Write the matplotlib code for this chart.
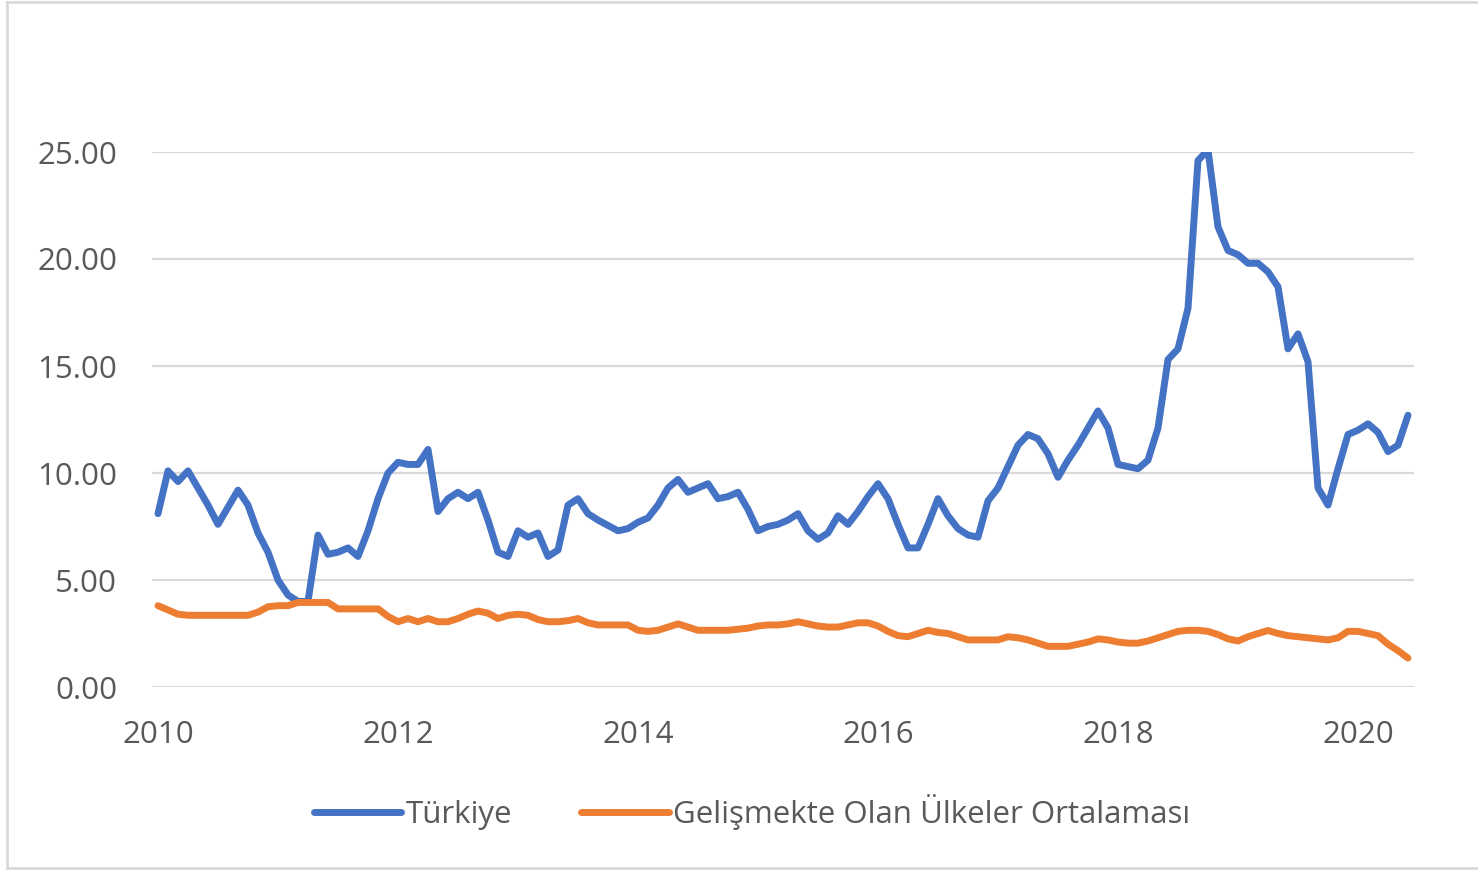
import matplotlib
matplotlib.use("Agg")
import matplotlib.pyplot as plt
from matplotlib.lines import Line2D

# Monthly data, Jan 2010 .. Jun 2020
turkiye = [
    8.1, 10.1, 9.6, 10.1, 9.3, 8.5, 7.6, 8.4, 9.2, 8.5, 7.2, 6.3,          # 2010
    5.0, 4.3, 4.0, 4.0, 7.1, 6.2, 6.3, 6.5, 6.1, 7.3, 8.8, 10.0,           # 2011
    10.5, 10.4, 10.4, 11.1, 8.2, 8.8, 9.1, 8.8, 9.1, 7.8, 6.3, 6.1,        # 2012
    7.3, 7.0, 7.2, 6.1, 6.4, 8.5, 8.8, 8.1, 7.8, 7.55, 7.3, 7.4,           # 2013
    7.7, 7.9, 8.5, 9.3, 9.7, 9.1, 9.3, 9.5, 8.8, 8.9, 9.1, 8.3,            # 2014
    7.3, 7.5, 7.6, 7.8, 8.1, 7.3, 6.9, 7.2, 8.0, 7.6, 8.2, 8.9,            # 2015
    9.5, 8.8, 7.6, 6.5, 6.5, 7.6, 8.8, 8.0, 7.4, 7.1, 7.0, 8.7,            # 2016
    9.3, 10.3, 11.3, 11.8, 11.6, 10.9, 9.8, 10.6, 11.3, 12.1, 12.9, 12.1,  # 2017
    10.4, 10.3, 10.2, 10.6, 12.1, 15.3, 15.8, 17.7, 24.6, 25.1, 21.5, 20.4, # 2018
    20.2, 19.8, 19.8, 19.4, 18.7, 15.8, 16.5, 15.2, 9.3, 8.5, 10.2, 11.8,  # 2019
    12.0, 12.3, 11.9, 11.0, 11.3, 12.7,                                    # 2020
]
gelismekte = [
    3.8, 3.6, 3.4, 3.35, 3.35, 3.35, 3.35, 3.35, 3.35, 3.35, 3.5, 3.75,
    3.8, 3.8, 3.95, 3.95, 3.95, 3.95, 3.65, 3.65, 3.65, 3.65, 3.65, 3.3,
    3.05, 3.2, 3.05, 3.2, 3.05, 3.05, 3.2, 3.4, 3.55, 3.45, 3.2, 3.35,
    3.4, 3.35, 3.15, 3.05, 3.05, 3.1, 3.2, 3.0, 2.9, 2.9, 2.9, 2.9,
    2.65, 2.6, 2.65, 2.8, 2.95, 2.8, 2.65, 2.65, 2.65, 2.65, 2.7, 2.75,
    2.85, 2.9, 2.9, 2.95, 3.05, 2.95, 2.85, 2.8, 2.8, 2.9, 3.0, 3.0,
    2.85, 2.6, 2.4, 2.35, 2.5, 2.65, 2.55, 2.5, 2.35, 2.2, 2.2, 2.2,
    2.2, 2.35, 2.3, 2.2, 2.05, 1.9, 1.9, 1.9, 2.0, 2.1, 2.25, 2.2,
    2.1, 2.05, 2.05, 2.15, 2.3, 2.45, 2.6, 2.65, 2.65, 2.6, 2.45, 2.25,
    2.15, 2.35, 2.5, 2.64, 2.5, 2.4, 2.35, 2.3, 2.25, 2.2, 2.3, 2.6,
    2.6, 2.5, 2.4, 2.0, 1.7, 1.35,
]
series_names = ["Türkiye", "Gelişmekte Olan Ülkeler Ortalaması"]
year_labels = ["2010", "2012", "2014", "2016", "2018", "2020"]
y_ticks = [0, 5, 10, 15, 20, 25]

plt.rcParams['font.family'] = ['Open Sans', 'DejaVu Sans']
TXT = "#595959"
BLUE = "#4472C4"
ORANGE = "#ED7D31"
LW = 5.0

W, H = 1478, 871
fig = plt.figure(figsize=(W / 100, H / 100), dpi=100)
ax = fig.add_axes([152 / W, 1 - 687 / H, (1414 - 152) / W, (687 - 152) / H])

ax.plot(range(len(turkiye)), turkiye, color=BLUE, lw=LW,
        solid_joinstyle='round', solid_capstyle='round', zorder=3)
ax.plot(range(len(gelismekte)), gelismekte, color=ORANGE, lw=LW,
        solid_joinstyle='round', solid_capstyle='round', zorder=3)

ax.set_xlim(-0.6, 125.6)
ax.set_ylim(0, 25)
ax.set_yticks(y_ticks)
ax.set_yticklabels([f"{v:.2f}" for v in y_ticks])
ax.set_xticks([i * 24 for i in range(len(year_labels))])
ax.set_xticklabels(year_labels)
ax.tick_params(axis='both', length=0, labelsize=22.5, labelcolor=TXT)
ax.tick_params(axis='y', pad=25)
ax.tick_params(axis='x', pad=24)
ax.grid(axis='y', color="#D9D9D9", lw=1.6, zorder=0)
for s in ax.spines.values():
    s.set_visible(False)
ax.set_axisbelow(True)

handles = [Line2D([], [], color=BLUE, lw=LW, solid_capstyle='round'),
           Line2D([], [], color=ORANGE, lw=LW, solid_capstyle='round')]
fig.legend(handles, series_names, loc='center', bbox_to_anchor=(752 / W, 1 - 812 / H),
           ncol=2, frameon=False, fontsize=22.5, labelcolor=TXT,
           handlelength=2.8, handletextpad=0.15, columnspacing=2.2)

# outer chart border (light gray)
bc = "#D9D9D9"
fig.add_artist(Line2D([7 / W, 7 / W], [1 - 2 / H, 1 - 868 / H], transform=fig.transFigure, color=bc, lw=2))
fig.add_artist(Line2D([7 / W, 1], [1 - 2 / H, 1 - 2 / H], transform=fig.transFigure, color=bc, lw=2))
fig.add_artist(Line2D([7 / W, 1], [1 - 868 / H, 1 - 868 / H], transform=fig.transFigure, color=bc, lw=2))

fig.savefig("out.png", dpi=100)
